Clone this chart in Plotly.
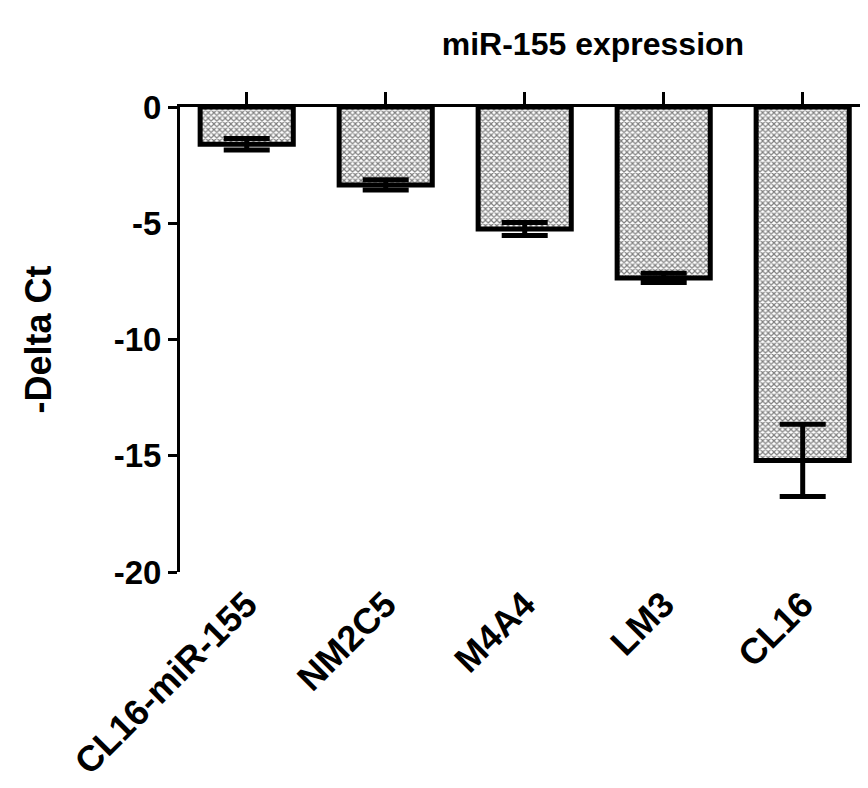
import plotly.graph_objects as go

categories = ["CL16-miR-155", "NM2C5", "M4A4", "LM3", "CL16"]
values = [-1.6, -3.35, -5.25, -7.35, -15.2]
errors = [0.25, 0.22, 0.28, 0.2, 1.55]
y_ticks = [0, -5, -10, -15, -20]
y_tick_text = ["0", "-5", "-10", "-15", "-20"]

FONT = "Liberation Sans, Arial, sans-serif"
X_RANGE = [-0.48, 4.513]

fig = go.Figure()
fig.add_trace(go.Bar(
    x=categories, y=values,
    marker=dict(
        color="white",
        line=dict(color="black", width=5),
        pattern=dict(shape="x", size=4, solidity=0.5, fgcolor="black", bgcolor="white"),
    ),
    error_y=dict(type="data", array=errors, visible=True, color="black", thickness=5, width=23),
    showlegend=False,
))
# invisible trace to realise the top axis
fig.add_trace(go.Scatter(x=categories, y=[None]*len(categories), xaxis="x2", mode="markers",
                         showlegend=False, hoverinfo="skip"))

fig.update_layout(
    width=866, height=782,
    margin=dict(l=172, r=0, t=99, b=218, autoexpand=False),
    paper_bgcolor="white", plot_bgcolor="white",
    bargap=0.33,
    title=dict(text="miR-155 expression", x=0.595, xref="paper", xanchor="center",
               y=1 - 36/782, yanchor="middle",
               font=dict(family=FONT, size=32, color="black", weight="bold")),
    xaxis=dict(
        range=X_RANGE, showline=False, showgrid=False, zeroline=False,
        ticks="", tickangle=-45, side="bottom", automargin=False,
        ticklabelstandoff=3,
        tickfont=dict(family=FONT, size=36, color="black", weight="bold"),
    ),
    xaxis2=dict(
        overlaying="x", anchor="y", side="top", range=X_RANGE, automargin=False,
        showline=True, linecolor="black", linewidth=3,
        ticks="outside", ticklen=12, tickwidth=3, tickcolor="black",
        showticklabels=False, showgrid=False, zeroline=False,
        tickmode="array", tickvals=categories,
    ),
    yaxis=dict(
        range=[-20, 0], tickvals=y_ticks, ticktext=y_tick_text, automargin=False,
        showline=True, linecolor="black", linewidth=3,
        ticks="outside", ticklen=9, tickwidth=3, tickcolor="black",
        showgrid=False, zeroline=False,
        tickfont=dict(family=FONT, size=33, color="black", weight="bold"),
        title=dict(text="-Delta Ct", standoff=52,
                   font=dict(family=FONT, size=36, color="black", weight="bold")),
    ),
)

fig.write_html("out.html")
